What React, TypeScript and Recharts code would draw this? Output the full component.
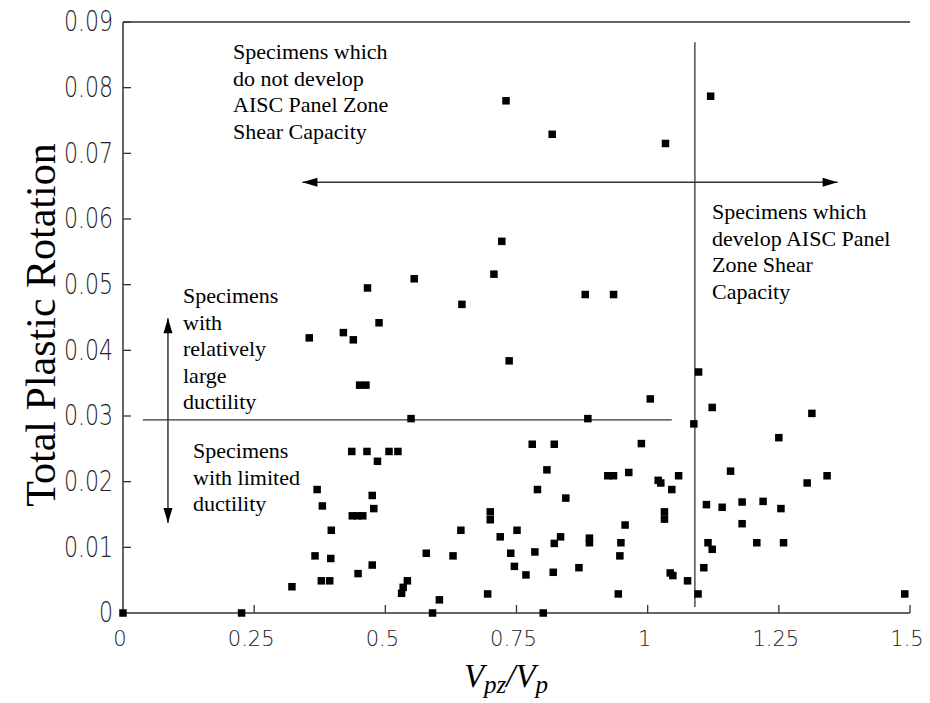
import React from 'react';
import { ScatterChart, Scatter, XAxis, YAxis, ReferenceLine, Customized } from 'recharts';

// V_pz / V_p ratio of each specimen
const vpzRatio = [
  0, 0.226, 0.322, 0.366, 0.396, 0.378, 0.394, 0.448, 0.397, 0.37, 0.38, 0.437, 0.447, 0.457, 0.436, 0.355, 0.42, 0.439, 0.451, 0.463,
  0.736, 0.549, 0.886, 0.465, 0.507, 0.524, 0.485, 0.475, 0.478, 0.644, 0.7, 0.7, 0.719, 0.751, 0.739, 0.785, 0.822, 0.834, 0.889, 0.889,
  0.746, 0.768, 0.82, 0.869, 0.578, 0.629, 0.475, 0.542, 0.534, 0.531, 0.603, 0.59, 0.695, 0.801, 0.78, 0.822, 0.808, 0.79, 0.844,
  1.005, 1.097, 1.123, 1.088, 1.313, 1.25, 0.988, 0.924, 0.935, 0.964, 1.02, 1.025, 1.059, 1.046, 1.032, 1.032, 1.158, 1.304, 1.342, 1.112,
  1.142, 1.18, 1.22, 1.254, 1.18, 0.957, 0.949, 0.947, 1.115, 1.123, 1.208, 1.259, 1.043, 1.048, 1.076, 1.107, 0.944, 1.096, 1.49,
  0.73, 0.818, 0.722, 0.555, 0.707, 0.466, 0.646, 0.881, 0.935, 0.488, 1.12, 1.034,
];

// total plastic rotation (rad)
const plasticRotation = [
  0, 0, 0.004, 0.0087, 0.0083, 0.0049, 0.0049, 0.006, 0.0126, 0.0188, 0.0163, 0.0148, 0.0148, 0.0148, 0.0246, 0.0419, 0.0427, 0.0416, 0.0347, 0.0347,
  0.0384, 0.0296, 0.0296, 0.0246, 0.0246, 0.0246, 0.0231, 0.0179, 0.0159, 0.0126, 0.0154, 0.0142, 0.0116, 0.0126, 0.0091, 0.0093, 0.0106, 0.0116, 0.0107, 0.0114,
  0.0071, 0.0058, 0.0062, 0.0069, 0.0091, 0.0087, 0.0073, 0.0049, 0.0039, 0.003, 0.002, 0, 0.0029, 0, 0.0257, 0.0257, 0.0218, 0.0188, 0.0175,
  0.0326, 0.0367, 0.0313, 0.0288, 0.0304, 0.0267, 0.0258, 0.0209, 0.0209, 0.0214, 0.0202, 0.0198, 0.0209, 0.0188, 0.0154, 0.0143, 0.0216, 0.0198, 0.0209, 0.0165,
  0.0161, 0.0169, 0.017, 0.0159, 0.0136, 0.0134, 0.0107, 0.0087, 0.0107, 0.0097, 0.0107, 0.0107, 0.0061, 0.0057, 0.0049, 0.0069, 0.0029, 0.0029, 0.0029,
  0.078, 0.0729, 0.0566, 0.0509, 0.0516, 0.0495, 0.047, 0.0485, 0.0485, 0.0442, 0.0787, 0.0715,
];

const xTicks = [0, 0.25, 0.5, 0.75, 1, 1.25, 1.5];
const yTicks = [0, 0.01, 0.02, 0.03, 0.04, 0.05, 0.06, 0.07, 0.08, 0.09];

// AISC panel zone capacity boundary and ductility boundary
const capacityLimit = 1.09;
const ductilityLimit = 0.0294;

const data = vpzRatio.map((x, i) => ({ x, y: plasticRotation[i] }));

const LINE = '#333';
const SERIF = '"Liberation Serif", "Times New Roman", serif';
const SANS = '"DejaVu Sans", Verdana, sans-serif';

const XTick = (props: any) => {
  const { x, y, payload } = props;
  return (
    <g>
      {payload.value !== 0 && <line x1={x} y1={y} x2={x} y2={y - 8} stroke={LINE} strokeWidth={1.3} />}
      <text x={x - 3} y={y + 33} textAnchor="middle" fontFamily={SANS} fontWeight={200} fontSize={21} fill="#222">
        {String(payload.value)}
      </text>
    </g>
  );
};

const YTick = (props: any) => {
  const { x, y, payload } = props;
  return (
    <g>
      {payload.value !== 0 && <line x1={x} y1={y} x2={x + 8} y2={y} stroke={LINE} strokeWidth={1.3} />}
      <text
        transform={`translate(${x - 10},${y}) scale(1,1.25)`}
        textAnchor="end"
        dominantBaseline="central"
        fontFamily={SANS}
        fontWeight={200}
        fontSize={22}
        fill="#222"
      >
        {payload.value === 0 ? '0' : payload.value.toFixed(2)}
      </text>
    </g>
  );
};

const Square = (props: any) => {
  const { cx, cy } = props;
  return <rect x={cx - 3.75} y={cy - 3.75} width={7.5} height={7.5} fill="#000" />;
};

const arrowHead = (tx: number, ty: number, dx: number, dy: number) => {
  const len = 15;
  const hw = 4.5;
  const bx = tx - dx * len;
  const by = ty - dy * len;
  return `${tx},${ty} ${bx - dy * hw},${by + dx * hw} ${bx + dy * hw},${by - dx * hw}`;
};

const DoubleArrow = (props: any) => {
  const { x1, y1, x2, y2 } = props;
  const d = Math.hypot(x2 - x1, y2 - y1) || 1;
  const ux = (x2 - x1) / d;
  const uy = (y2 - y1) / d;
  return (
    <g>
      <line x1={x1} y1={y1} x2={x2} y2={y2} stroke={LINE} strokeWidth={1.5} />
      <polygon points={arrowHead(x2, y2, ux, uy)} fill="#000" />
      <polygon points={arrowHead(x1, y1, -ux, -uy)} fill="#000" />
    </g>
  );
};

const Notes = () => {
  const block = (x: number, y: number, lines: string[]) =>
    lines.map((t, i) => (
      <text key={t + i} x={x} y={y + i * 26.6} fontFamily={SERIF} fontSize={22} fill="#000">
        {t}
      </text>
    ));
  return (
    <g>
      {block(233, 59, ['Specimens which', 'do not develop', 'AISC Panel Zone', 'Shear Capacity'])}
      {block(712, 219, ['Specimens which', 'develop AISC Panel', 'Zone Shear', 'Capacity'])}
      {block(183, 303, ['Specimens', 'with', 'relatively', 'large', 'ductility'])}
      {block(193, 458, ['Specimens', 'with limited', 'ductility'])}
      <text transform="translate(55,325) rotate(-90)" textAnchor="middle" fontFamily={SERIF} fontSize={42} fill="#000">
        Total Plastic Rotation
      </text>
      <text x={506} y={687} textAnchor="middle" fontFamily={SERIF} fontStyle="italic" fontSize={33} fill="#000">
        <tspan>V</tspan>
        <tspan fontSize={25} dy={6}>pz</tspan>
        <tspan dy={-6}>/V</tspan>
        <tspan fontSize={25} dy={6}>p</tspan>
      </text>
    </g>
  );
};

export default function App() {
  return (
    <div style={{ position: 'absolute', left: 0, top: 0, width: 930, height: 703, background: '#fff' }}>
      <ScatterChart width={930} height={703} margin={{ top: 22, right: 20, bottom: 0, left: 0 }}>
        <XAxis
          type="number"
          dataKey="x"
          domain={[0, 1.5]}
          ticks={xTicks}
          interval={0}
          height={90}
          tickLine={false}
          tickSize={0}
          tickMargin={0}
          axisLine={{ stroke: LINE, strokeWidth: 1.5 }}
          tick={<XTick />}
        />
        <YAxis
          type="number"
          dataKey="y"
          domain={[0, 0.09]}
          ticks={yTicks}
          interval={0}
          width={123}
          tickLine={false}
          tickSize={0}
          tickMargin={0}
          axisLine={{ stroke: LINE, strokeWidth: 1.5 }}
          tick={<YTick />}
        />
        <ReferenceLine y={0.09} stroke={LINE} strokeWidth={1.5} />
        <ReferenceLine
          segment={[{ x: capacityLimit, y: 0.0009 }, { x: capacityLimit, y: 0.0869 }]}
          stroke={LINE}
          strokeWidth={1.3}
        />
        <ReferenceLine
          segment={[{ x: 0.038, y: ductilityLimit }, { x: 1.046, y: ductilityLimit }]}
          stroke={LINE}
          strokeWidth={1.3}
        />
        <ReferenceLine segment={[{ x: 0.342, y: 0.0656 }, { x: 1.362, y: 0.0656 }]} shape={<DoubleArrow />} />
        <ReferenceLine segment={[{ x: 0.0857, y: 0.0449 }, { x: 0.0857, y: 0.0137 }]} shape={<DoubleArrow />} />
        <Scatter data={data} shape={<Square />} isAnimationActive={false} />
        <Customized component={<Notes />} />
      </ScatterChart>
    </div>
  );
}
